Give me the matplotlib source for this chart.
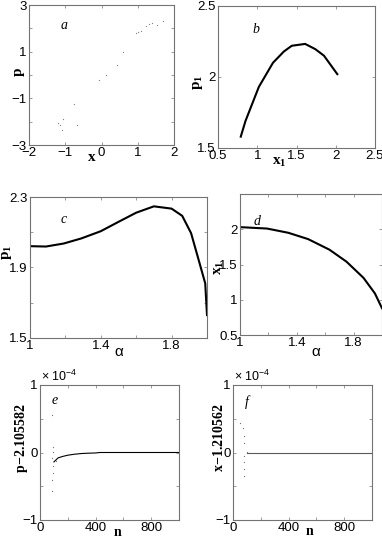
import numpy as np
import matplotlib
matplotlib.use('Agg')
import matplotlib.pyplot as plt

plt.rcParams['font.family'] = ['Liberation Sans', 'DejaVu Sans']
plt.rcParams['mathtext.fontset'] = 'custom'
plt.rcParams['mathtext.rm'] = 'Liberation Serif'
plt.rcParams['mathtext.it'] = 'Liberation Serif:italic'
plt.rcParams['mathtext.bf'] = 'Liberation Serif:bold'
plt.rcParams['mathtext.sf'] = 'Liberation Sans'

# panel a: scattered orbit points (x, p)
a_x = [1.71, 1.23, 1.02, 1.10, 1.39, 1.52, 0.59, 0.42, 0.13, -0.08,
       -0.77, -1.05, -1.14, -1.10, -0.68, -1.19, 1.30, 0.95]
a_p = [2.31, 2.10, 1.86, 1.90, 2.24, 2.14, 1.00, 0.43, 0.00, -0.21,
       -1.26, -1.89, -2.14, -2.36, -2.14, -2.06, 2.20, 1.80]

# panel b: fixed point curve (x1, p1)
b_x1 = [0.79, 0.85, 1.02, 1.20, 1.34, 1.44, 1.61, 1.74, 1.85, 2.02]
b_p1 = [1.58, 1.69, 1.93, 2.10, 2.18, 2.22, 2.233, 2.196, 2.15, 2.02]

# panel c: p1 vs alpha
c_alpha = [1.0, 1.09, 1.19, 1.29, 1.40, 1.50, 1.60, 1.70, 1.80, 1.86, 1.91, 1.95, 1.99, 2.0]
c_p1 = [2.021, 2.019, 2.036, 2.065, 2.106, 2.159, 2.211, 2.247, 2.234, 2.193,
        2.095, 1.953, 1.81, 1.63]

# panel d: x1 vs alpha
d_alpha = [1.0, 1.19, 1.34, 1.48, 1.63, 1.75, 1.87, 1.95, 2.0]
d_x1 = [2.03, 2.01, 1.95, 1.86, 1.71, 1.54, 1.31, 1.09, 0.88]

# panel e: p - 2.105582 vs n
e_n = [100, 110, 130, 160, 200, 250, 300, 350, 400, 430, 500, 700, 1000]
e_dp = [-0.14e-4, -0.12e-4, -0.08e-4, -0.06e-4, -0.04e-4, -0.025e-4, -0.015e-4,
        -0.01e-4, -0.007e-4, 0.0, 0.0, 0.0, 0.0]
e_dots_n = [88, 90, 92, 88, 90, 92, 86, 86, 112]
e_dots_v = [0.55e-4, 0.08e-4, 0.01e-4, -0.08e-4, -0.2e-4, -0.3e-4, -0.4e-4, -0.57e-4, -0.13e-4]

# panel f: x - 1.210562 vs n
f_n = [100, 1000]
f_dx = [0.0, 0.0]
f_dots_n = [53, 72, 78, 82, 78, 78, 82, 78, 101]
f_dots_v = [0.43e-4, 0.36e-4, 0.24e-4, 0.14e-4, -0.05e-4, -0.14e-4, -0.24e-4, -0.35e-4, 0.01e-4]

W, H = 382.0, 537.0
fig = plt.figure(figsize=(W / 100, H / 100), dpi=100)


def make_axes(l, r, t, b):
    ax = fig.add_axes([l / W, 1 - b / H, (r - l) / W, (b - t) / H])
    for s in ax.spines.values():
        s.set_color('0.45')
        s.set_linewidth(0.8)
    ax.tick_params(direction='in', top=True, right=True, length=2.5, width=0.6,
                   color='0.55', labelsize=9.5, pad=1.5)
    return ax


def set_labels(ax, xl, xpos, yl, ypos, size=11):
    ax.set_xlabel(xl, fontsize=size)
    ax.set_ylabel(yl, fontsize=size)
    ax.xaxis.label.set_va('center')
    ax.yaxis.label.set_va('center')
    ax.xaxis.set_label_coords(*xpos)
    ax.yaxis.set_label_coords(*ypos)


def letter(ax, s, x, y):
    ax.text(x, y, s, fontsize=10, family='Liberation Serif', style='italic',
            ha='center', va='center')


def ticks(ax, axis, major, labeled):
    labels = [('%g' % v).replace('-', '\u2212') if v in labeled else '' for v in major]
    if axis == 'x':
        ax.set_xticks(major)
        ax.set_xticklabels(labels)
    else:
        ax.set_yticks(major)
        ax.set_yticklabels(labels)


# a
ax = make_axes(29, 174, 5, 145)
ax.plot(a_x, a_p, 'o', ms=0.9, color='0.5', mec='none')
ax.set_xlim(-2, 2)
ax.set_ylim(-3, 3)
ticks(ax, 'x', [-2, -1, 0, 1, 2], [-2, -1, 0, 1, 2])
ticks(ax, 'y', [-3, -2, -1, 0, 1, 2, 3], [-3, -1, 1, 3])
set_labels(ax, r'$\mathbf{x}$', (0.43, -0.085), r'$\mathbf{p}$', (-0.065, 0.52))
letter(ax, r'$a$', -1.02, 2.14)

# b
ax = make_axes(218, 375, 6, 148)
ax.plot(b_x1, b_p1, color='black', lw=1.5)
ax.set_xlim(0.5, 2.5)
ax.set_ylim(1.5, 2.5)
ticks(ax, 'x', [0.5, 1, 1.5, 2, 2.5], [0.5, 1, 1.5, 2, 2.5])
ticks(ax, 'y', [1.5, 2, 2.5], [1.5, 2, 2.5])
set_labels(ax, r'$\mathbf{x}_{\mathbf{1}}$', (0.39, -0.1), r'$\mathbf{p}_{\mathbf{1}}$', (-0.13, 0.46))
letter(ax, r'$b$', 0.99, 2.34)

# c
ax = make_axes(30, 207, 197, 338)
ax.plot(c_alpha, c_p1, color='black', lw=1.5)
ax.set_xlim(1, 2)
ax.set_ylim(1.5, 2.3)
ticks(ax, 'x', [1, 1.2, 1.4, 1.6, 1.8, 2.0], [1, 1.4, 1.8])
ticks(ax, 'y', [1.5, 1.7, 1.9, 2.1, 2.3], [1.5, 1.9, 2.3])
set_labels(ax, '\u03b1', (0.5, -0.1), r'$\mathbf{p}_{\mathbf{1}}$', (-0.13, 0.61))
letter(ax, r'$c$', 1.19, 2.17)

# d
ax = make_axes(240, 382, 194, 335)
ax.plot(d_alpha, d_x1, color='black', lw=1.5)
ax.set_xlim(1, 2)
ax.set_ylim(0.5, 2.5)
ticks(ax, 'x', [1, 1.2, 1.4, 1.6, 1.8, 2.0], [1, 1.4, 1.8])
ticks(ax, 'y', [0.5, 1, 1.5, 2, 2.5], [0.5, 1, 1.5, 2])
set_labels(ax, '\u03b1', (0.53, -0.12), r'$\mathbf{x}_{\mathbf{1}}$', (-0.15, 0.475))
letter(ax, r'$d$', 1.12, 2.11)

# e
ax = make_axes(40, 179, 385, 520)
ax.plot(e_n, e_dp, color='black', lw=0.8)
ax.plot(e_dots_n, e_dots_v, 'o', ms=0.9, color='0.45', mec='none')
ax.set_xlim(0, 1000)
ax.set_ylim(-1e-4, 1e-4)
ticks(ax, 'x', [0, 200, 400, 600, 800, 1000], [0, 400, 800])
ax.set_yticks([-1e-4, -0.5e-4, 0, 0.5e-4, 1e-4])
ax.set_yticklabels(['\u22121', '', '0', '', '1'])
set_labels(ax, r'$\mathbf{n}$', (0.56, -0.09), r'$\mathbf{p\!-\!2.105582}$', (-0.13, 0.61), size=10)
ax.text(0.005, 1.005, r'$\mathsf{\times\ 10^{-4}}$', transform=ax.transAxes, fontsize=9,
        ha='left', va='bottom')
letter(ax, r'$e$', 108, 0.77e-4)

# f
ax = make_axes(233, 372, 385, 520)
ax.plot(f_n, f_dx, color='0.35', lw=0.8)
ax.plot(f_dots_n, f_dots_v, 'o', ms=0.9, color='0.45', mec='none')
ax.set_xlim(0, 1000)
ax.set_ylim(-1e-4, 1e-4)
ticks(ax, 'x', [0, 200, 400, 600, 800, 1000], [0, 400, 800])
ax.set_yticks([-1e-4, -0.5e-4, 0, 0.5e-4, 1e-4])
ax.set_yticklabels(['\u22121', '', '0', '', '1'])
set_labels(ax, r'$\mathbf{n}$', (0.55, -0.085), r'$\mathbf{x\!-\!1.210562}$', (-0.1, 0.61), size=10)
ax.text(0.005, 1.005, r'$\mathsf{\times\ 10^{-4}}$', transform=ax.transAxes, fontsize=9,
        ha='left', va='bottom')
letter(ax, r'$f$', 108, 0.75e-4)

fig.savefig('out.png', dpi=100)
